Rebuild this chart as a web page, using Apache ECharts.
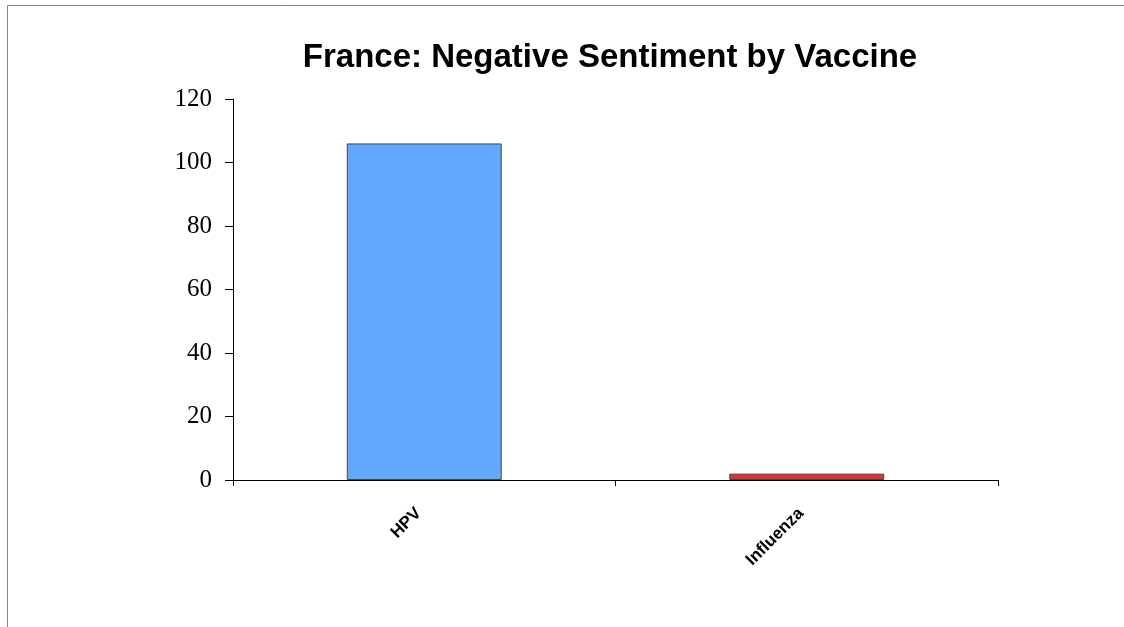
<!DOCTYPE html>
<html>
<head>
<meta charset="utf-8">
<script src="https://cdn.jsdelivr.net/npm/echarts@6/dist/echarts.min.js"></script>
<style>
html,body{margin:0;padding:0;background:#fff;}
#chart{width:1124px;height:627px;}
</style>
</head>
<body>
<div id="chart"></div>
<script>
const categories = ['HPV', 'Influenza'];
const values = [106, 2];
const barColors = ['#63A8FF', '#DD3333'];
const yTicks = [0, 20, 40, 60, 80, 100, 120];

const chart = echarts.init(document.getElementById('chart'), null, {renderer: 'canvas'});
chart.setOption({
  backgroundColor: '#ffffff',
  animation: false,
  title: {
    text: 'France: Negative Sentiment by Vaccine',
    left: 605,
    top: 36,
    textAlign: 'center',
    textStyle: {fontFamily: 'Liberation Sans, Arial, sans-serif', fontWeight: 'bold', fontSize: 33, color: '#000'}
  },
  graphic: [
    {type: 'line', shape: {x1: 7.5, y1: 5.5, x2: 1124, y2: 5.5}, style: {stroke: '#888', lineWidth: 1}, silent: true},
    {type: 'line', shape: {x1: 7.5, y1: 5.5, x2: 7.5, y2: 627}, style: {stroke: '#888', lineWidth: 1}, silent: true}
  ],
  grid: {left: 233, right: 126, top: 99, bottom: 147},
  xAxis: {
    type: 'category',
    data: categories,
    axisLine: {lineStyle: {color: '#000', width: 1}},
    axisTick: {show: true, length: 6, interval: 0, lineStyle: {color: '#000'}},
    axisLabel: {
      rotate: 45, interval: 0, margin: 25, padding: [0, 8, 0, 0],
      fontFamily: 'Liberation Sans, Arial, sans-serif', fontWeight: 'bold', fontSize: 17, color: '#000'
    },
    splitLine: {show: false}
  },
  yAxis: {
    type: 'value',
    min: yTicks[0],
    max: yTicks[yTicks.length - 1],
    interval: yTicks[1] - yTicks[0],
    axisLine: {show: true, lineStyle: {color: '#000', width: 1}},
    axisTick: {show: true, length: 8, lineStyle: {color: '#000'}},
    axisLabel: {margin: 21, fontFamily: 'Liberation Serif, serif', fontSize: 25, color: '#000'},
    splitLine: {show: false}
  },
  series: [{
    type: 'bar',
    barWidth: '40.5%',
    data: values.map((v, i) => ({value: v, itemStyle: {color: barColors[i]}})),
    itemStyle: {borderColor: '#444', borderWidth: 1}
  }]
});
</script>
</body>
</html>
